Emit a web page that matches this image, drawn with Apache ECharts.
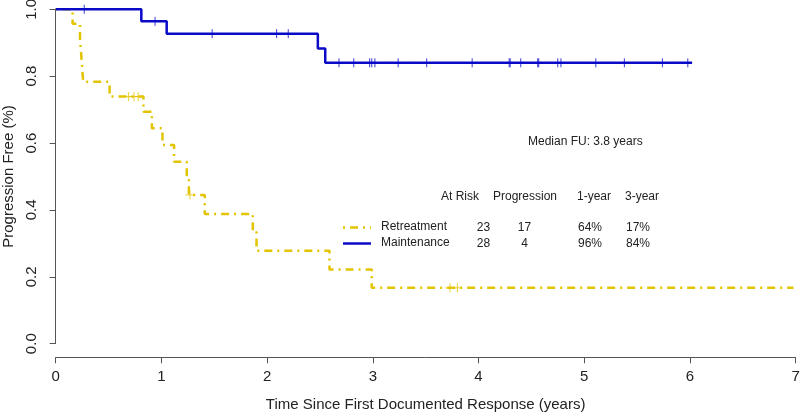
<!DOCTYPE html>
<html><head><meta charset="utf-8">
<script src="https://cdn.jsdelivr.net/npm/echarts@6/dist/echarts.min.js"></script>
<style>html,body{margin:0;padding:0;background:#fff}#c{width:800px;height:414px}</style>
</head><body><div id="c"></div>
<script>
// ---- Data ----
const xTicks = [0, 1, 2, 3, 4, 5, 6, 7];
const yTicks = [0, 0.2, 0.4, 0.6, 0.8, 1.0];

// Retreatment (yellow, dot-dash) Kaplan-Meier steps: time, survival
const retreatTime = [0, 0.16, 0.23, 0.24, 0.25, 0.26, 0.51, 0.83, 0.91, 1.01, 1.12, 1.24, 1.26, 1.41, 1.865, 1.90, 2.59, 2.99, 6.98];
const retreatSurv = [1.0, 0.957, 0.913, 0.870, 0.826, 0.783, 0.739, 0.694, 0.644, 0.594, 0.544, 0.495, 0.445, 0.388, 0.333, 0.278, 0.222, 0.167, 0.167];
const retreatCensor = [0.69, 0.74, 0.78, 1.27, 3.73, 3.80];

// Maintenance (blue, solid)
const maintTime = [0, 0.81, 1.05, 2.48, 2.55, 6.02];
const maintSurv = [1.0, 0.964, 0.927, 0.883, 0.840, 0.840];
const maintCensor = [0.27, 0.94, 1.48, 2.09, 2.20, 2.68, 2.82, 2.97, 2.99, 3.02, 3.24, 3.51, 3.94, 4.29, 4.30, 4.40, 4.56, 4.57, 4.75, 4.78, 5.11, 5.38, 5.74, 5.98];

// Table
const groups = ['Retreatment', 'Maintenance'];
const atRisk = ['23', '28'];
const progression = ['17', '4'];
const oneYear = ['64%', '96%'];
const threeYear = ['17%', '84%'];
const tableHeader = ['At Risk', 'Progression', '1-year', '3-year'];
const annotation = 'Median FU: 3.8 years';

const YELLOW = '#e3c400';
const BLUE = '#0a0ac8';
const FONT = 'Liberation Sans, Arial, sans-serif';

function pairs(t, s) { return t.map((v, i) => [v, s[i]]); }
function survAt(t, s, x) {
  let v = s[0];
  for (let i = 0; i < t.length; i++) { if (t[i] <= x) v = s[i]; }
  return v;
}
const plusPath = 'path://M5,0 L5,10 M0,5 L10,5';

const chart = echarts.init(document.getElementById('c'), null, { renderer: 'canvas' });

const graphics = [];
const headerX = [441, 493, 577, 625];
tableHeader.forEach((h, i) => graphics.push({
  type: 'text', left: headerX[i], top: 191,
  style: { text: h, font: '12px ' + FONT, fill: '#222' }
}));
const rowY = [221, 237];
const colCenter = [483.5, 524.5, 590, 638];
const legendColors = [YELLOW, BLUE];
const legendDash = [[2, 5, 8, 5], null];
groups.forEach((g, r) => {
  graphics.push({
    type: 'line', shape: { x1: 343, y1: rowY[r] + 6.5, x2: 371, y2: rowY[r] + 6.5 },
    style: { stroke: legendColors[r], lineWidth: 2.5, lineDash: legendDash[r] }
  });
  graphics.push({ type: 'text', left: 381, top: rowY[r], style: { text: g, font: '12px ' + FONT, fill: '#222' } });
  [atRisk[r], progression[r], oneYear[r], threeYear[r]].forEach((v, c) => graphics.push({
    type: 'text', x: colCenter[c], y: rowY[r] + 7,
    style: { text: v, font: '12px ' + FONT, fill: '#222', textAlign: 'center', textVerticalAlign: 'middle', verticalAlign: 'middle' }
  }));
});
graphics.push({ type: 'text', left: 528, top: 136, style: { text: annotation, font: '12px ' + FONT, fill: '#222' } });

const axisCommon = {
  axisLine: { show: true, lineStyle: { color: '#555', width: 1 } },
  axisTick: { show: true, length: 6, lineStyle: { color: '#555' } },
  splitLine: { show: false }
};

chart.setOption({
  animation: false,
  grid: [
    { left: 55.7, right: 4.4, top: 9.3, bottom: 70.3, outerBoundsMode: 'none', containLabel: false },
    { left: 55.7, right: 4.4, top: 356.3, height: 1, outerBoundsMode: 'none', containLabel: false }
  ],
  xAxis: [
    { type: 'value', gridIndex: 0, min: 0, max: 7, interval: 1, show: false },
    Object.assign({
      type: 'value', gridIndex: 1, min: 0, max: 7, interval: 1,
      name: 'Time Since First Documented Response (years)', nameLocation: 'middle', nameGap: 40,
      nameTextStyle: { fontFamily: FONT, fontSize: 15, color: '#222' },
      axisLabel: { fontFamily: FONT, fontSize: 15, color: '#222', margin: 12, formatter: v => String(v) }
    }, axisCommon)
  ],
  yAxis: [
    Object.assign({
      type: 'value', gridIndex: 0, min: 0, max: 1, interval: 0.2,
      name: 'Progression Free (%)', nameLocation: 'middle', nameGap: 39, nameRotate: 90,
      nameTextStyle: { fontFamily: FONT, fontSize: 15, color: '#222' },
      axisLabel: { fontFamily: FONT, fontSize: 15, color: '#222', margin: 16, rotate: 90, formatter: v => v.toFixed(1) }
    }, axisCommon),
    { type: 'value', gridIndex: 1, min: 0, max: 1, show: false }
  ],
  graphic: graphics,
  series: [
    {
      type: 'line', name: 'Retreatment', step: 'end', showSymbol: false,
      data: pairs(retreatTime, retreatSurv),
      lineStyle: { color: YELLOW, width: 2.5, type: [2, 5, 8, 5] }, z: 2
    },
    {
      type: 'scatter', data: retreatCensor.map(x => [x, survAt(retreatTime, retreatSurv, x)]),
      symbol: plusPath, symbolSize: 9,
      itemStyle: { color: 'none', borderColor: YELLOW, borderWidth: 1 }, z: 3
    },
    {
      type: 'line', name: 'Maintenance', step: 'end', showSymbol: false,
      data: pairs(maintTime, maintSurv),
      lineStyle: { color: BLUE, width: 2.5 }, z: 4
    },
    {
      type: 'scatter', data: maintCensor.map(x => [x, survAt(maintTime, maintSurv, x)]),
      symbol: plusPath, symbolSize: 9,
      itemStyle: { color: 'none', borderColor: BLUE, borderWidth: 1 }, z: 5
    }
  ]
});
</script>
</body></html>
